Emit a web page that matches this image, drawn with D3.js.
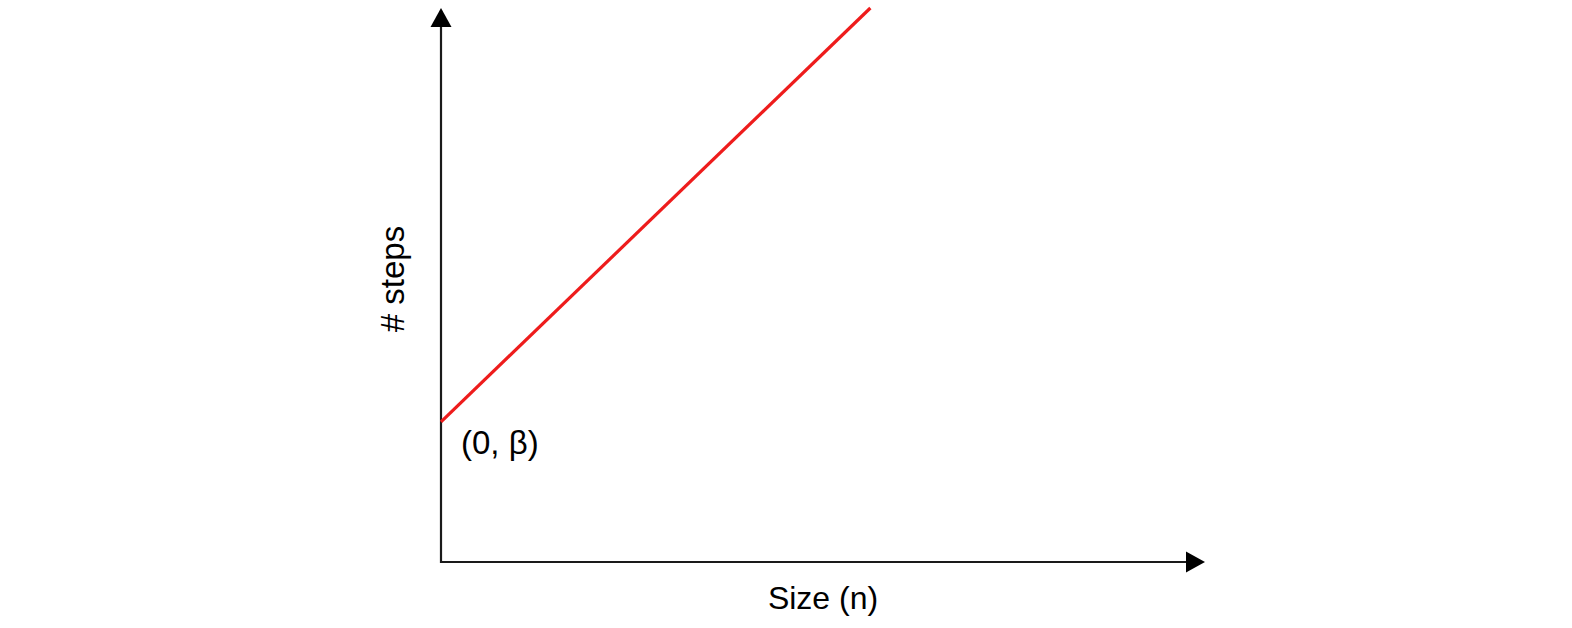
<!DOCTYPE html>
<html>
<head>
<meta charset="utf-8">
<script src="https://cdn.jsdelivr.net/npm/d3@7"></script>
<style>
  html, body { margin: 0; padding: 0; background: #fff; }
  svg { display: block; }
  text { font-family: "Liberation Sans", Arial, sans-serif; fill: #000; }
</style>
</head>
<body>
<svg id="chart" width="1572" height="628"></svg>
<script>
// Data (axis units 0..100)
const sizes = [0, 56.2];
const steps = [25.3, 100];
const interceptLabel = "(0, β)";
const xLabel = "Size (n)";
const yLabel = "# steps";

const W = 1572, H = 628;
const margin = { left: 441, right: 367, top: 8, bottom: 66 };
const svg = d3.select("#chart");

const x = d3.scaleLinear().domain([0, 100]).range([margin.left, W - margin.right]);
const y = d3.scaleLinear().domain([0, 100]).range([H - margin.bottom, margin.top]);

const axisColor = "#1a1a1a";
const arrowLen = 19, arrowHalf = 10.5;

// X axis line + arrow
const x0 = x(0), y0 = y(0), xEnd = x(100), yEnd = y(100);
svg.append("line")
  .attr("x1", x0).attr("y1", y0).attr("x2", xEnd - arrowLen + 1).attr("y2", y0)
  .attr("stroke", axisColor).attr("stroke-width", 2.2);
svg.append("path")
  .attr("d", `M${xEnd},${y0} L${xEnd - arrowLen},${y0 - arrowHalf} L${xEnd - arrowLen},${y0 + arrowHalf} Z`)
  .attr("fill", "#000");

// Y axis line + arrow
svg.append("line")
  .attr("x1", x0).attr("y1", y0 + 1.1).attr("x2", x0).attr("y2", yEnd + arrowLen - 1)
  .attr("stroke", axisColor).attr("stroke-width", 2.2);
svg.append("path")
  .attr("d", `M${x0},${yEnd} L${x0 - arrowHalf},${yEnd + arrowLen} L${x0 + arrowHalf},${yEnd + arrowLen} Z`)
  .attr("fill", "#000");

// Red line
const pts = sizes.map((s, i) => [s, steps[i]]);
svg.append("path")
  .datum(pts)
  .attr("d", d3.line().x(d => x(d[0])).y(d => y(d[1])))
  .attr("fill", "none")
  .attr("stroke", "#ee1c1c")
  .attr("stroke-width", 3.2);

// Intercept label
svg.append("text")
  .attr("x", x(0) + 20).attr("y", y(steps[0]) + 32)
  .attr("font-size", 33)
  .text(interceptLabel);

// Axis labels
svg.append("text")
  .attr("x", 823).attr("y", 609)
  .attr("text-anchor", "middle")
  .attr("font-size", 32)
  .text(xLabel);

svg.append("text")
  .attr("transform", "translate(404,279) rotate(-90)")
  .attr("text-anchor", "middle")
  .attr("font-size", 33)
  .text(yLabel);
</script>
</body>
</html>
